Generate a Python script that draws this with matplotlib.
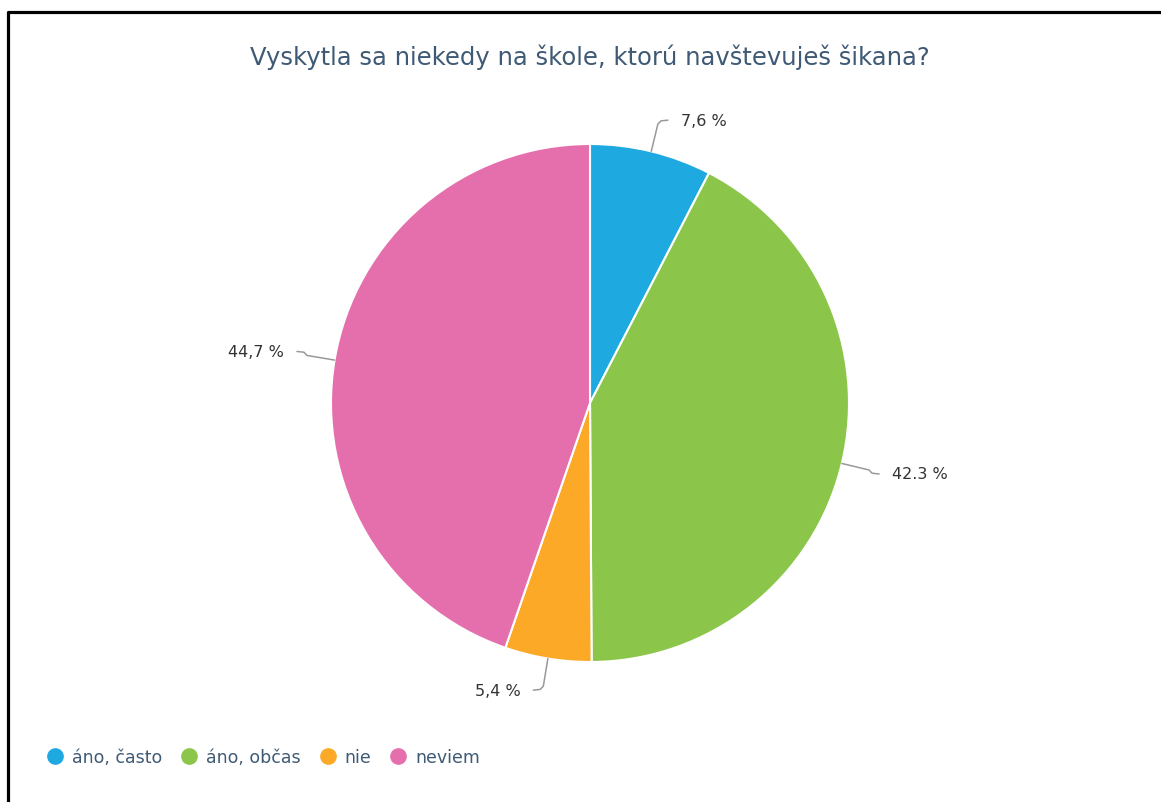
import numpy as np
import matplotlib
matplotlib.use('Agg')
import matplotlib.pyplot as plt
from matplotlib.lines import Line2D

title = 'Vyskytla sa niekedy na škole, ktorú navštevuješ šikana?'
categories = ['áno, často', 'áno, občas', 'nie', 'neviem']
values = [7.6, 42.3, 5.4, 44.7]
labels = ['7,6 %', '42.3 %', '5,4 %', '44,7 %']
colors = ['#1fa9e1', '#8bc64a', '#fba927', '#e56fac']

W, H = 1161, 803
fig = plt.figure(figsize=(W / 100, H / 100), dpi=100)
ax = fig.add_axes([0, 0, 1, 1])

cx, cy, r = 590, 399, 259
wedges, _ = ax.pie(values, colors=colors, startangle=90, counterclock=False,
                   center=(cx, cy), radius=r,
                   wedgeprops=dict(edgecolor='white', linewidth=1.5))
ax.set_xlim(0, W)
ax.set_ylim(0, H)
ax.set_aspect('equal')
ax.axis('off')

# leader lines + labels
for w, lab in zip(wedges, labels):
    ang = np.deg2rad((w.theta1 + w.theta2) / 2)
    x0, y0 = cx + r * np.cos(ang), cy + r * np.sin(ang)
    x1, y1 = cx + (r + 28) * np.cos(ang), cy + (r + 28) * np.sin(ang)
    side = 1 if np.cos(ang) >= 0 else -1
    dy = np.sign(np.sin(ang)) * 4
    x2 = x1 + side * 10
    ax.plot([x0, x1, x1 + side * 3, x2], [y0, y1, y1 + dy * 0.8, y1 + dy], color='#999999',
            lw=1.1, solid_capstyle='round', solid_joinstyle='round')
    ax.text(x2 + side * 13, y1 + dy, lab, fontsize=11.5, color='#333333',
            ha='left' if side > 0 else 'right', va='center')

fig.text(590 / W, 1 - 57 / H, title, fontsize=17.5, color='#3f5a75',
         ha='center', va='center')

handles = [Line2D([0], [0], marker='o', linestyle='none', markersize=11,
                  markerfacecolor=c, markeredgecolor=c) for c in colors]
fig.legend(handles, categories, loc='center left', bbox_to_anchor=(32 / W, 1 - 758 / H),
           ncol=4, frameon=False, fontsize=12.5, labelcolor='#3f5a75',
           handletextpad=0.52, columnspacing=1.1, handlelength=0.9)

# frame
fig.add_artist(Line2D([8 / W, 8 / W, 1], [0, 1 - 13 / H, 1 - 13 / H],
                      transform=fig.transFigure, color='black', lw=2.3))

fig.savefig('out.png', dpi=100)
